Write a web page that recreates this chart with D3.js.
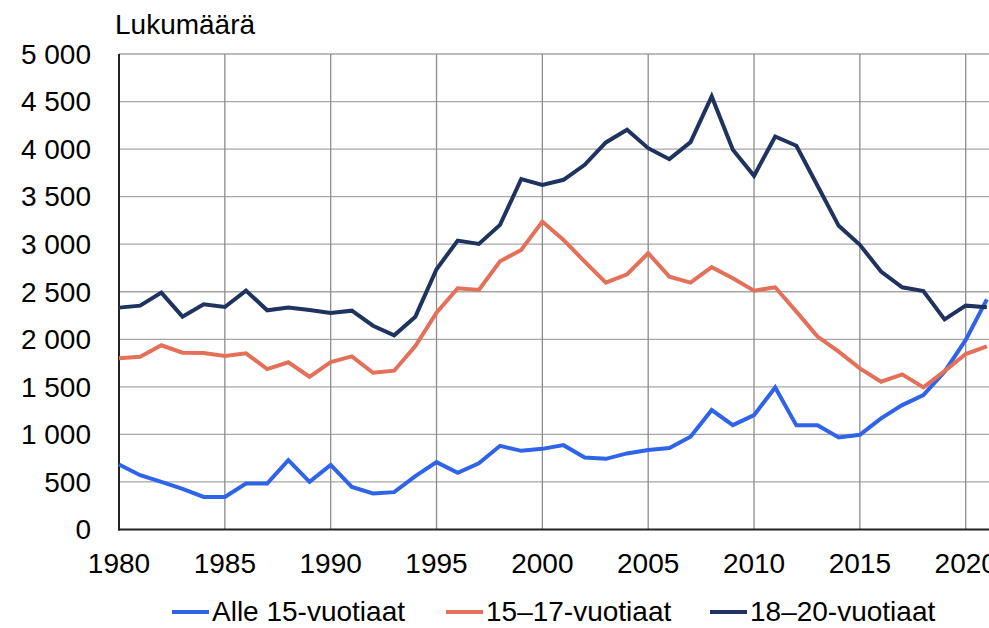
<!DOCTYPE html>
<html>
<head>
<meta charset="utf-8">
<script src="https://cdn.jsdelivr.net/npm/d3@7"></script>
<style>
  html, body { margin: 0; padding: 0; background: #fff; overflow: hidden; }
  svg { display: block; font-family: "Liberation Sans", Arial, sans-serif; }
</style>
</head>
<body>
<svg id="chart" width="989" height="628"></svg>
<script>
const years = d3.range(1980, 2022);
const under15 = [684, 571, 501, 427, 343, 343, 484, 484, 729, 501,
                 680, 448, 379, 393, 561, 708, 596, 695, 880, 827,
                 848, 887, 758, 743, 800, 835, 856, 975, 1256, 1098,
                 1203, 1494, 1095, 1095, 968, 996, 1168, 1308, 1414, 1659,
                 1993, 2420];
const age15to17 = [1800, 1817, 1937, 1859, 1856, 1824, 1852, 1687, 1758, 1606,
                   1761, 1821, 1648, 1670, 1929, 2280, 2537, 2519, 2821, 2940,
                   3238, 3045, 2817, 2596, 2684, 2905, 2659, 2596, 2758, 2642,
                   2512, 2547, 2291, 2028, 1870, 1694, 1554, 1631, 1494, 1666,
                   1845, 1925];
const age18to20 = [2333, 2354, 2491, 2238, 2368, 2340, 2512, 2305, 2333, 2308,
                   2277, 2301, 2143, 2042, 2238, 2737, 3038, 3003, 3203, 3684,
                   3624, 3677, 3835, 4070, 4203, 4010, 3894, 4073, 4554, 3993,
                   3719, 4133, 4035, 3614, 3193, 2993, 2712, 2547, 2508, 2210,
                   2354, 2338];
const seriesNames = ["Alle 15-vuotiaat", "15–17-vuotiaat", "18–20-vuotiaat"];
const seriesColors = ["#2f63e8", "#e4705a", "#1f3360"];
const xTicks = [1980, 1985, 1990, 1995, 2000, 2005, 2010, 2015, 2020];
const yTicks = [0, 500, 1000, 1500, 2000, 2500, 3000, 3500, 4000, 4500, 5000];
const yLabel = "Lukumäärä";

const svg = d3.select("#chart");
const mLeft = 119, mTop = 54, mBottom = 529.5, mRight = 989;
const x = d3.scaleLinear().domain([1980, 2021.1]).range([mLeft, mRight]);
const y = d3.scaleLinear().domain([0, 5000]).range([mBottom, mTop]);
const fmt = v => d3.format(",")(v).replace(/,/g, " ");
const FS = 28;

// gridlines
svg.append("g").selectAll("line").data(yTicks.filter(d => d > 0)).join("line")
  .attr("x1", mLeft).attr("x2", mRight)
  .attr("y1", d => y(d)).attr("y2", d => y(d))
  .attr("stroke", "#a6a6a6").attr("stroke-width", 1.3);
svg.append("g").selectAll("line").data(xTicks.filter(d => d > 1980)).join("line")
  .attr("x1", d => x(d)).attr("x2", d => x(d))
  .attr("y1", mTop).attr("y2", mBottom)
  .attr("stroke", "#8c8c8c").attr("stroke-width", 1.3);

// axes lines
svg.append("line").attr("x1", mLeft).attr("x2", mLeft).attr("y1", mTop).attr("y2", mBottom + 1)
  .attr("stroke", "#222").attr("stroke-width", 2);
svg.append("line").attr("x1", mLeft - 1).attr("x2", mRight).attr("y1", mBottom).attr("y2", mBottom)
  .attr("stroke", "#222").attr("stroke-width", 2);

// y labels
svg.append("g").selectAll("text").data(yTicks).join("text")
  .attr("x", 91).attr("y", d => y(d)).attr("dy", "0.35em")
  .attr("text-anchor", "end").attr("font-size", FS).attr("fill", "#000")
  .text(d => fmt(d));

// x labels
svg.append("g").selectAll("text").data(xTicks).join("text")
  .attr("x", d => x(d)).attr("y", 573)
  .attr("text-anchor", "middle").attr("font-size", FS).attr("fill", "#000")
  .text(d => d);

// y title
svg.append("text").attr("x", 115).attr("y", 34).attr("font-size", FS).attr("fill", "#000").text(yLabel);

// lines
const allSeries = [under15, age15to17, age18to20];
const line = d3.line().x((d, i) => x(years[i])).y(d => y(d));
[0, 1, 2].forEach(k => {
  svg.append("path").datum(allSeries[k])
    .attr("fill", "none").attr("stroke", seriesColors[k])
    .attr("stroke-width", 4).attr("stroke-linejoin", "miter").attr("d", line);
});

// legend
const legendX = [172, 446, 710];
seriesNames.forEach((name, k) => {
  const g = svg.append("g").attr("transform", `translate(${legendX[k]},612)`);
  g.append("line").attr("x1", 0).attr("x2", 37).attr("y1", 0).attr("y2", 0)
    .attr("stroke", seriesColors[k]).attr("stroke-width", 4);
  g.append("text").attr("x", 40).attr("y", 9).attr("font-size", FS).attr("fill", "#000").text(name);
});
</script>
</body>
</html>
